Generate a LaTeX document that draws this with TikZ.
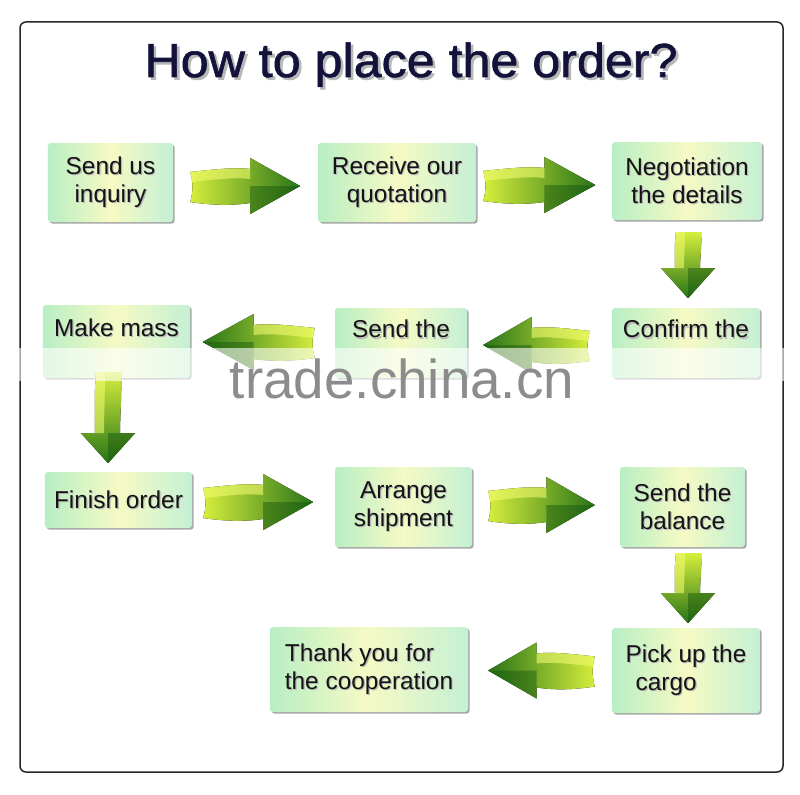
\documentclass[tikz,border=0pt]{standalone}
\usepackage{fontspec}
\setmainfont{Liberation Sans}
\newfontfamily\titlefont[FakeBold=1.2]{Liberation Sans}
\usetikzlibrary{shadows,calc}
\definecolor{boxL}{RGB}{184,238,196}
\definecolor{boxM}{RGB}{246,250,196}
\definecolor{boxR}{RGB}{196,240,212}
\definecolor{arL}{RGB}{214,238,60}
\definecolor{arD}{RGB}{40,116,24}
\definecolor{arHi}{RGB}{240,250,110}
\definecolor{arDk}{RGB}{20,84,12}
\definecolor{titlecol}{RGB}{18,18,58}
\definecolor{wmgray}{RGB}{140,140,140}
\newcommand\shtext[2][1.2bp]{\makebox[0pt][l]{\kern#1\raisebox{-#1}{\color{black!28}#2}}#2}
\tikzset{
  arrshade/.style={left color=arL, right color=arD},
  dshade/.style={top color=arL, bottom color=arD},
  arrhi/.style={fill=arHi, opacity=.6},
  arrdark/.style={fill=arDk, opacity=.45},
  pics/rarr/.style={code={
    \fill[arrshade] (0,-14) .. controls (20,-16) and (42,-19) .. (60,-17) -- (60,-28) -- (110,0) -- (60,28) -- (60,17) .. controls (40,20) and (20,19) .. (0,16) .. controls (3,6) and (3,-4) .. (0,-14) -- cycle;
    \fill[arrhi] (0,-14) .. controls (20,-16) and (42,-19) .. (60,-17) -- (60,-7) .. controls (42,-9) and (20,-6) .. (1,-4) -- cycle;
    \fill[arrdark] (60,0) -- (110,0) -- (60,28) -- cycle;
  }},
  pics/darr/.style={code={
    \fill[dshade] (-12,0) -- (13,0) .. controls (14,{0.4*#1}) and (12,{0.7*#1}) .. (12,#1) -- (27,#1) -- (0,#1+30) -- (-27,#1) -- (-13,#1) .. controls (-13,{0.7*#1}) and (-14,{0.4*#1}) .. (-12,0) -- cycle;
    \fill[arrhi] (-12,0) -- (-3,0) .. controls (-3,{0.4*#1}) and (-4,{0.7*#1}) .. (-4,#1) -- (-13,#1) .. controls (-13,{0.7*#1}) and (-14,{0.4*#1}) .. (-12,0) -- cycle;
    \fill[arrdark] (0,#1) -- (27,#1) -- (0,#1+30) -- cycle;
  }},
  box/.style={rounded corners=3bp, left color=boxL, right color=boxR, middle color=boxM,
    inner sep=0pt, align=center, text=black!92, font=\fontsize{24.5}{28}\selectfont,
    drop shadow={shadow xshift=1.6bp, shadow yshift=-1.6bp, fill=black, opacity=.35}},
}
\begin{document}
\begin{tikzpicture}[x=1bp,y=-1bp]
\useasboundingbox (0,0) rectangle (800,795);
\fill[white] (0,0) rectangle (800,795);
% frame
\draw[line width=1.5bp, black!85, rounded corners=6bp] (20,22) rectangle (783,772);
% title
\node[font=\titlefont\fontsize{48}{48}\selectfont, text=titlecol, anchor=base, inner sep=0pt] (title) at (411,77) {\scalebox{1.05}[1]{\shtext[2.5bp]{How to place the order?}}};
% boxes
\node[box, minimum width=125bp, minimum height=79bp] (b1) at (110.5,182.5) {\shtext{Send us}\\\shtext{inquiry}};
\node[box, minimum width=158bp, minimum height=79bp] (b2) at (397,182.5) {\shtext{Receive our}\\\shtext{quotation}};
\node[box, minimum width=150bp, minimum height=78bp] (b3) at (687,181) {\shtext{Negotiation}\\\shtext{the details}};
\node[box, minimum width=148bp, minimum height=70bp] (b4) at (686,343) {\shtext{Confirm the}\\~};
\node[box, minimum width=132bp, minimum height=70bp] (b5) at (401,343) {\shtext{Send the}\\~};
\node[box, minimum width=147bp, minimum height=73bp] (b6) at (116.5,341.5) {\shtext{Make mass}\\~};
\node[box, minimum width=147bp, minimum height=56bp] (b7) at (118.5,500) {\shtext{Finish order}};
\node[box, minimum width=137bp, minimum height=80bp] (b8) at (403.5,507) {\shtext{Arrange}\\\shtext{shipment}};
\node[box, minimum width=125bp, minimum height=80bp] (b9) at (682.5,507) {\shtext{Send the}\\\shtext{balance}};
\node[box, minimum width=148bp, minimum height=85bp, align=left] (b10) at (686,670.5) {\shtext{Pick up the}\\\hspace*{10bp}\shtext{cargo}};
\node[box, minimum width=198bp, minimum height=85bp, align=left] (b11) at (369,669.5) {\shtext{Thank you for}\\\shtext{the cooperation}};
% arrows
\pic at ($(b1.east)+(17,3.5)$) {rarr};
\pic[xscale=1.02] at ($(b2.east)+(7,2.5)$) {rarr};
\pic at ($(b3.south)+(1,12)$) {darr=36};
\pic[xscale=-0.97, arrshade/.style={left color=arD, right color=arL}] at ($(b4.west)+(-22,2)$) {rarr};
\pic[xscale=-1.02, arrshade/.style={left color=arD, right color=arL}] at ($(b5.west)+(-20,-1)$) {rarr};
\pic at ($(b6.south)+(-8.5,-6)$) {darr=61};
\pic at ($(b7.east)+(11,2)$) {rarr};
\pic[xscale=0.97] at ($(b8.east)+(16,-2)$) {rarr};
\pic at ($(b9.south)+(5.5,6)$) {darr=40};
\pic[xscale=-0.97, arrshade/.style={left color=arD, right color=arL}] at ($(b10.west)+(-17,0)$) {rarr};
% watermark band
\fill[white, opacity=.6] (0,348) rectangle (800,381);
\node[font=\fontsize{55}{55}\selectfont, text=wmgray, anchor=base, inner sep=0pt] (wm) at (402,398) {trade.china.cn};
\end{tikzpicture}
\end{document}
